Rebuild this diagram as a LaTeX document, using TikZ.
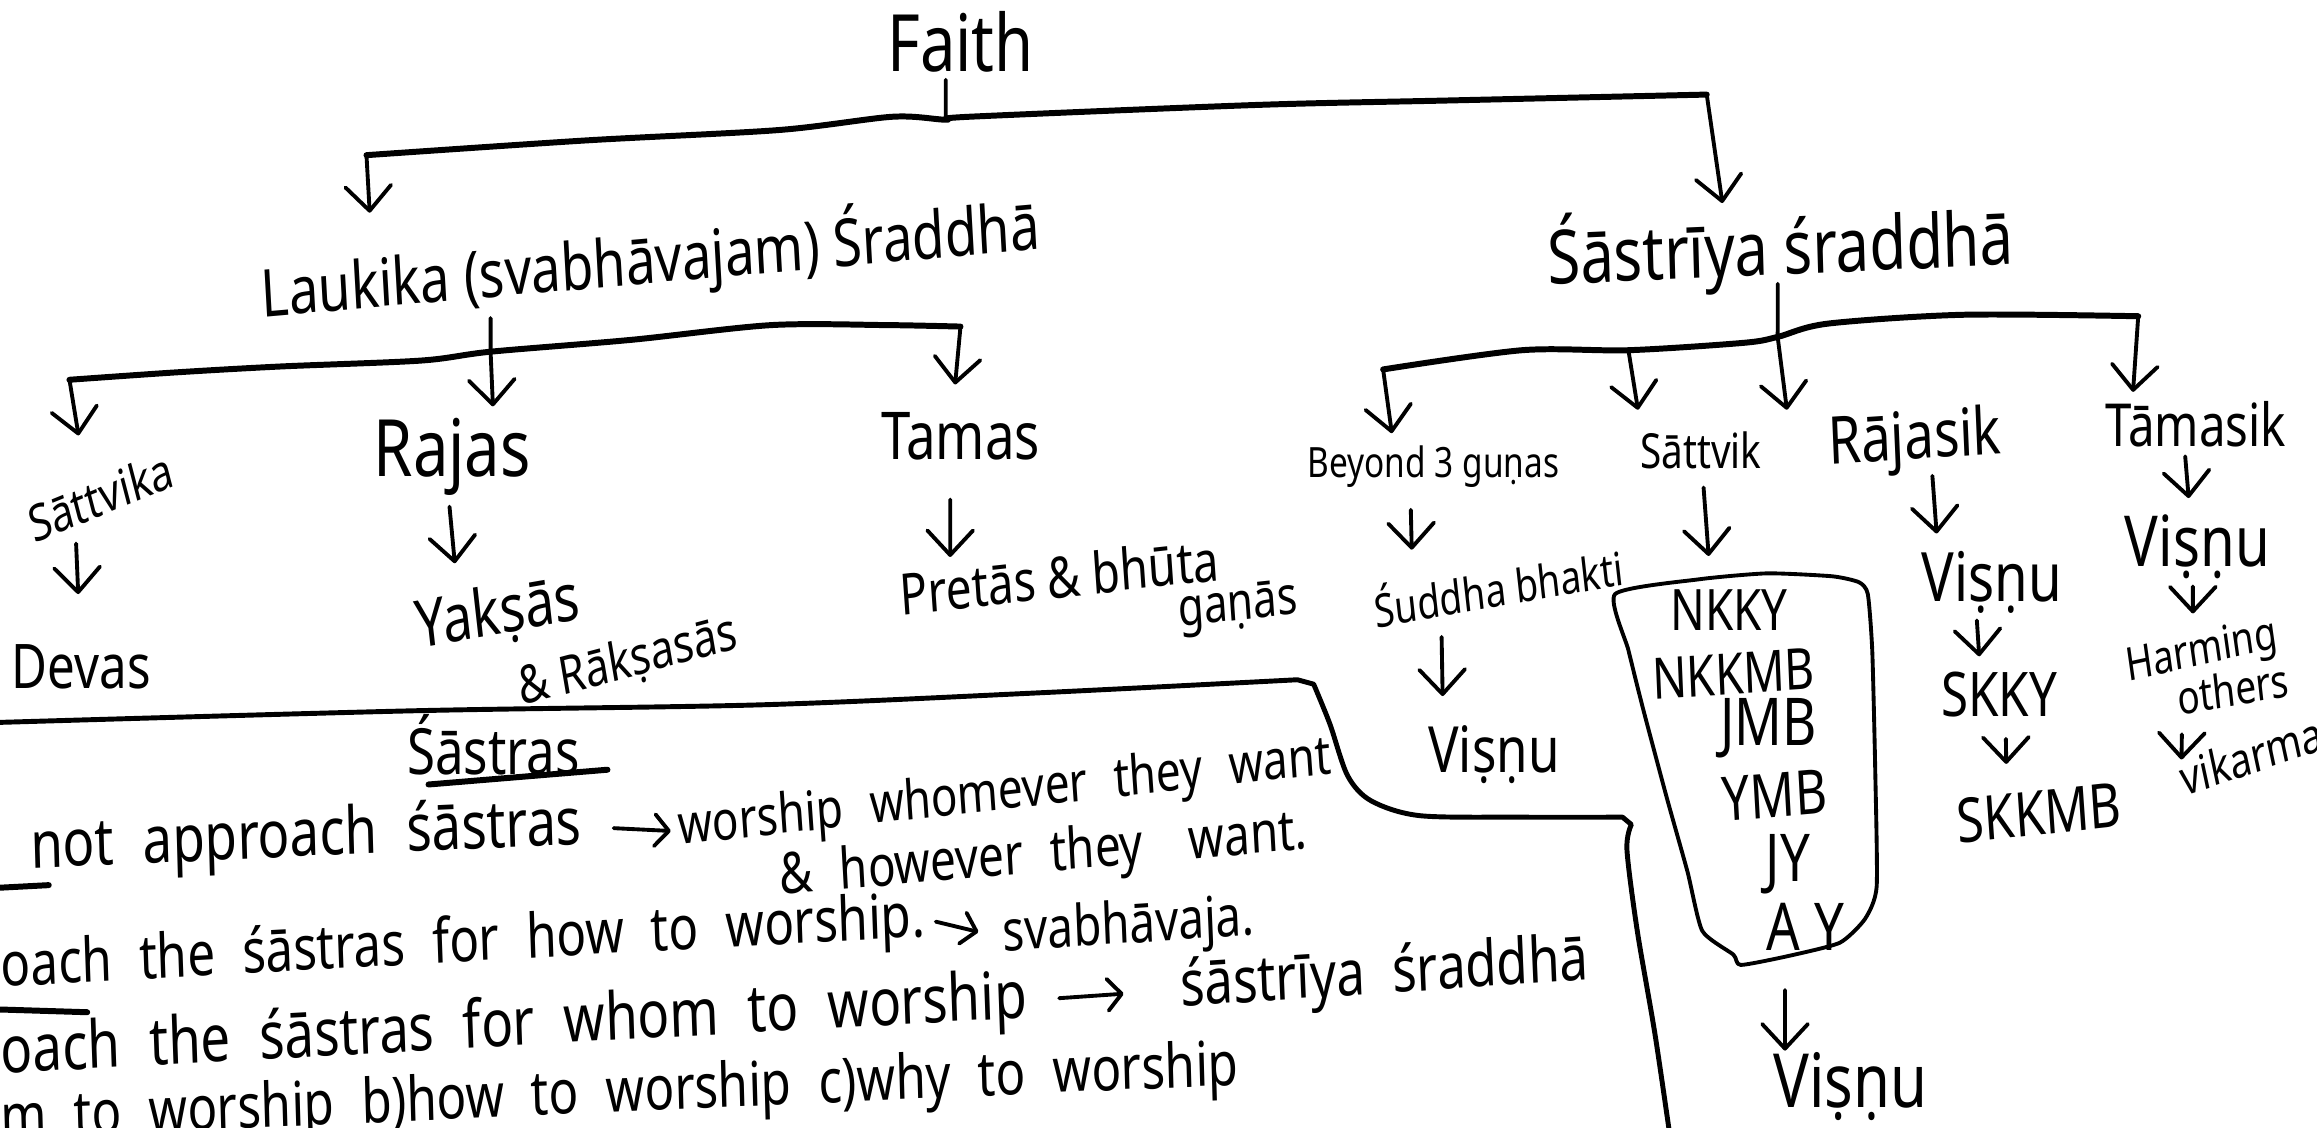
\documentclass[tikz,border=0pt]{standalone}
\usepackage{fontspec}
\setmainfont{Noto Sans}
\usetikzlibrary{arrows.meta}

\newcommand{\pen}[1]{\fontsize{#1}{#1}\selectfont}

\tikzset{
  hand/.style={inner sep=1pt, yscale=1.25},
  noteline/.style={hand, anchor=west, font={\pen{#1}\spaceskip=.55em\relax}},
  ink/.style={line width=1.1pt, line cap=round, line join=round},
  bline/.style={ink, line width=1.7pt},
  boxline/.style={ink, line width=1.4pt},
  harrow/.style={ink, -{Straight Barb[length=7pt,width=13pt,round]}},
  tarrow/.style={ink, -{Straight Barb[length=4pt,width=9pt,round]}},
}

\begin{document}
\begin{tikzpicture}[x=0.014777cm, y=-0.014777cm]
    \useasboundingbox (0,0) rectangle (1568,763);
    \fill[white] (0,0) rectangle (1568,763);
    \clip (0,0) rectangle (1568,763);
    %
    \coordinate (fl) at (248,105);
    \coordinate (fj) at (640,81);
    \coordinate (fr) at (1155,64);
    \coordinate (ll) at (47,257);
    \coordinate (lj) at (332,238);
    \coordinate (lr) at (650,221);
    \coordinate (sl) at (936,250);
    \coordinate (s2) at (1102,237);
    \coordinate (sj) at (1203,228);
    \coordinate (sr) at (1447,214);
    %
    \node[hand, font=\pen{18}] (faith) at (650,28) {Faith};
    \node[hand, font=\pen{15}, rotate=4] (laukika) at (440,176) {Laukika (svabhāvajam) Śraddhā};
    \node[hand, font=\pen{17}, rotate=2] (sastriya) at (1205,168) {Śāstrīya śraddhā};
    %
    \node[hand, font=\pen{11.5}, rotate=18] (sattvika) at (68,336) {Sāttvika};
    \node[hand, font=\pen{14}] (devas) at (55,451) {Devas};
    \node[hand, font=\pen{18}] (rajas) at (306,309) {Rajas};
    \node[hand, font=\pen{15}, rotate=8] (yaksas) at (337,416) {Yakṣās};
    \node[hand, font=\pen{12}, rotate=12] (raksasas) at (425,448) {\& Rākṣasās};
    \node[hand, font=\pen{15}] (tamas) at (650,295) {Tamas};
    \node[hand, font=\pen{13}, rotate=5] (pretas) at (717,390) {Pretās \& bhūta};
    \node[hand, font=\pen{12}, rotate=5] (ganas) at (838,412) {gaṇās};
    %
    \node[hand, font=\pen{9.5}] (beyond) at (970,316) {Beyond 3 guṇas};
    \node[hand, font=\pen{11}] (sattvik) at (1151,305) {Sāttvik};
    \node[hand, font=\pen{15}, rotate=3] (rajasik) at (1296,299) {Rājasik};
    \node[hand, font=\pen{13.5}] (tamasik) at (1486,287) {Tāmasik};
    \node[hand, font=\pen{10.5}, rotate=8] (suddha) at (1014,396) {Śuddha bhakti};
    \node[hand, font=\pen{14.5}] (vishnuB) at (1011,511) {Viṣṇu};
    \node[hand, font=\pen{13}] (nkky) at (1170,413) {NKKY};
    \node[hand, font=\pen{13}, rotate=3] (nkkmb) at (1173,456) {NKKMB};
    \node[hand, font=\pen{15}] (jmb) at (1197,493) {JMB};
    \node[hand, font=\pen{14}, rotate=4] (ymb) at (1201,538) {YMB};
    \node[hand, font=\pen{15}] (jy) at (1210,585) {JY};
    \node[hand, font=\pen{15}] (ay) at (1222,627) {A\kern4pt Y};
    \node[hand, font=\pen{17}] (vishnuS) at (1252,735) {Viṣṇu};
    \node[hand, font=\pen{15.5}] (vishnuR) at (1348,394) {Viṣṇu};
    \node[hand, font=\pen{14}] (skky) at (1353,470) {SKKY};
    \node[hand, font=\pen{14}, rotate=5] (skkmb) at (1380,550) {SKKMB};
    \node[hand, font=\pen{16}] (vishnuT) at (1487,370) {Viṣṇu};
    \node[hand, font=\pen{10.5}, rotate=10] (harming) at (1490,442) {Harming};
    \node[hand, font=\pen{10.5}, rotate=8] (others) at (1511,466) {others};
    \node[hand, font=\pen{11}, rotate=15, anchor=west] (vikarma) at (1473,528) {vikarma};
    %
    \node[hand, font=\pen{14.5}] (sastras) at (334,504) {Śāstras};
    \node[noteline=15, rotate=2] (l1a) at (18,576) {not approach śāstras};
    \node[hand, font={\pen{12.5}\spaceskip=.6em\relax}, rotate=5] (l1b) at (680,538) {worship whomever they want};
    \node[hand, font={\pen{13}\spaceskip=.6em\relax}, rotate=4] (l1c) at (706,580) {\& however they\quad want.};
    \node[noteline=14, rotate=2.5] (l2a) at (-2,657) {oach the śāstras for how to worship.};
    \node[noteline=13, rotate=3] (l2b) at (676,634) {svabhāvaja.};
    \node[noteline=15, rotate=2.5] (l3a) at (-2,715) {oach the śāstras for whom to worship};
    \node[noteline=14.5, rotate=3] (l3b) at (796,670) {śāstrīya śraddhā};
    \node[noteline=14, rotate=2] (l4) at (-2,760) {m to worship b)how to worship c)why to worship};
    %
    % brackets
    \draw[ink, shorten <=10.9pt] ([xshift=-4.2pt]faith.center) -- (fj);
    \draw[bline] plot[smooth] coordinates {(fl) (397,95) (527,88) (604,79) (fj) (656,79) (851,71) (980,68) (fr)};
    \draw[harrow, shorten >=13.5pt] (fl) -- ([xshift=-79pt]laukika.center);
    \draw[harrow, shorten >=13pt] (fr) -- ([xshift=-14.7pt]sastriya.center);
    %
    \draw[ink, shorten <=16.5pt] ([xshift=-45.4pt]laukika.center) -- (lj);
    \draw[bline] plot[smooth] coordinates {(ll) (119,252) (190,248) (285,244) (lj) (427,230) (522,220) (600,220) (lr)};
    \draw[harrow, shorten >=17.6pt] (ll) -- ([xshift=-3.4pt]sattvika.center);
    \draw[harrow, shorten >=14.3pt] (lj) -- ([xshift=12.2pt]rajas.center);
    \draw[harrow, shorten >=14.7pt] (lr) -- ([xshift=-2.9pt]tamas.center);
    %
    \draw[ink, shorten <=10.1pt] ([xshift=-0.8pt]sastriya.center) -- (sj);
    \draw[bline] plot[smooth] coordinates {(sl) (1030,237) (s2) (1180,232) (sj) (1237,219) (1329,213) (sr)};
    \draw[harrow, shorten >=9.7pt] (sl) -- ([xshift=-10.5pt]beyond.center);
    \draw[harrow, shorten >=11.8pt] (s2) -- ([xshift=-16pt]sattvik.center);
    \draw[harrow, shorten >=9.2pt] (sj) -- ([xshift=-35.3pt]rajasik.center);
    \draw[harrow, shorten >=9.2pt] (sr) -- ([xshift=-18.5pt]tamasik.center);
    %
    % chains
    \draw[harrow, shorten <=13.4pt, shorten >=20.6pt] ([xshift=-7.5pt]sattvika.center) -- (devas.center);
    \draw[harrow, shorten <=14.3pt, shorten >=14.7pt] ([xshift=-2.1pt]rajas.center) -- ([xshift=-10.9pt]yaksas.center);
    \draw[harrow, shorten <=18.1pt, shorten >=5.5pt] ([xshift=-2.9pt]tamas.center) -- ([xshift=-31.1pt]pretas.center);
    \draw[harrow, shorten <=12.2pt, shorten >=10.1pt] ([xshift=-6.7pt]beyond.center) -- ([xshift=-24.4pt]suddha.center);
    \draw[harrow, shorten <=14.7pt, shorten >=16.8pt] ([xshift=-16.4pt]suddha.center) -- ([xshift=-14.3pt]vishnuB.center);
    \draw[harrow, shorten <=10.5pt, shorten >=15.5pt] (sattvik.center) -- ([xshift=-4.6pt]nkky.center);
    \draw[harrow, shorten <=18.1pt, shorten >=10.1pt] ([xshift=-5.9pt]ay.center) -- ([xshift=-18.5pt]vishnuS.center);
    \draw[harrow, shorten <=9.7pt, shorten >=13.9pt] ([xshift=4.2pt]rajasik.center) -- ([xshift=-14.7pt]vishnuR.center);
    \draw[harrow, shorten <=10.9pt, shorten >=10.9pt] ([xshift=-5pt]vishnuR.center) -- ([xshift=-5pt]skky.center);
    \draw[harrow, shorten <=12.6pt, shorten >=13.9pt] ([xshift=1.7pt]skky.center) -- ([xshift=-9.2pt]skkmb.center);
    \draw[harrow, shorten <=9.2pt, shorten >=13.9pt] ([xshift=-3.8pt]tamasik.center) -- ([xshift=-1.3pt]vishnuT.center);
    \draw[harrow, shorten <=11.3pt, shorten >=11.3pt] ([xshift=-1.3pt]vishnuT.center) -- ([xshift=-2.5pt]harming.center);
    \draw[harrow, shorten <=13pt, shorten >=5.9pt] ([xshift=-14.3pt]others.center) -- ([xshift=1.3pt]vikarma.west);
    %
    % boxes
    \draw[ink] plot[smooth cycle, tension=0.35] coordinates {(1093,402) (1150,392) (1196,388) (1240,390) (1258,394) (1264,402) (1267,440) (1269,520) (1270,600) (1262,622) (1245,638) (1210,647) (1178,653) (1173,646) (1152,630) (1142,590) (1128,540) (1112,480) (1102,440)};
    \draw[boxline] plot[smooth] coordinates {(-5,489) (280,481) (514,477) (700,469) (878,460)}
        -- plot[smooth] coordinates {(889,463) (900,490) (912,525) (928,542) (961,552) (1030,553) (1098,553)}
        -- plot[smooth] coordinates {(1104,558) (1101,575) (1108,630) (1120,700) (1131,775)};
    %
    % notes
    \draw[bline] ([shift={(-18.5pt,-11.3pt)}]sastras.center) -- ([shift={(32.4pt,-7.1pt)}]sastras.center);
    \draw[bline] (-5,601) -- (33,599);
    \draw[bline] (-5,683) -- (59,685);
    \draw[tarrow, shorten <=8pt, shorten >=1pt] (l1a.east) -- (l1b.west);
    \draw[tarrow, shorten <=2pt, shorten >=6pt] (l2a.east) -- (l2b.west);
    \draw[tarrow, shorten <=8pt, shorten >=15pt] (l3a.east) -- (l3b.west);
    %
\end{tikzpicture}
\end{document}
